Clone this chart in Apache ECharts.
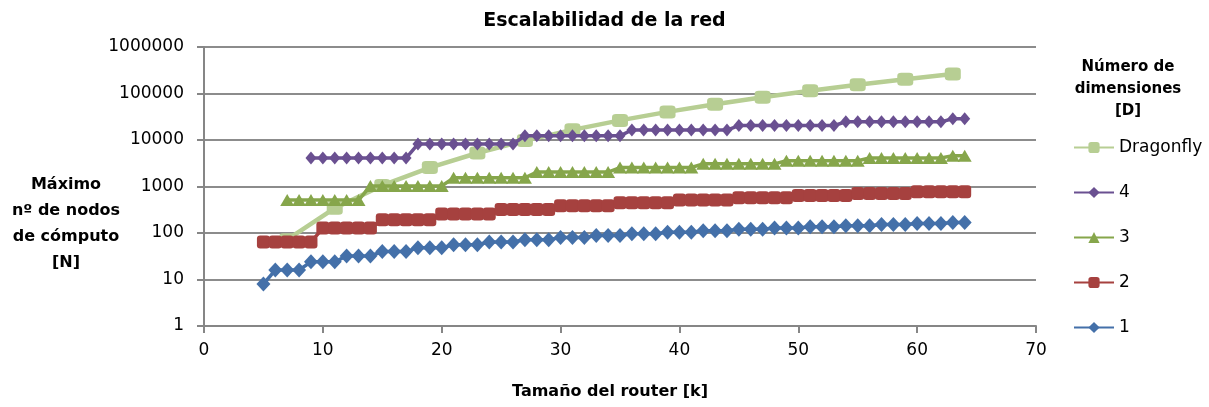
<!DOCTYPE html>
<html>
<head>
<meta charset="utf-8">
<script src="https://cdn.jsdelivr.net/npm/echarts@6/dist/echarts.min.js"></script>
<style>html,body{margin:0;padding:0;background:#fff}#c{width:1209px;height:407px}</style>
</head>
<body>
<div id="c"></div>
<script>
// Router size k for the dimension series
const kValues = [5,6,7,8,9,10,11,12,13,14,15,16,17,18,19,20,21,22,23,24,25,26,27,28,29,30,31,32,33,34,35,36,37,38,39,40,41,42,43,44,45,46,47,48,49,50,51,52,53,54,55,56,57,58,59,60,61,62,63,64];
const d1 = [8,16,16,16,24,24,24,32,32,32,40,40,40,48,48,48,56,56,56,64,64,64,72,72,72,80,80,80,88,88,88,96,96,96,104,104,104,112,112,112,120,120,120,128,128,128,136,136,136,144,144,144,152,152,152,160,160,160,168,168];
const d2 = [64,64,64,64,64,128,128,128,128,128,192,192,192,192,192,256,256,256,256,256,320,320,320,320,320,384,384,384,384,384,448,448,448,448,448,512,512,512,512,512,576,576,576,576,576,640,640,640,640,640,704,704,704,704,704,768,768,768,768,768];
const d3 = [null,null,512,512,512,512,512,512,512,1024,1024,1024,1024,1024,1024,1024,1536,1536,1536,1536,1536,1536,1536,2048,2048,2048,2048,2048,2048,2048,2560,2560,2560,2560,2560,2560,2560,3072,3072,3072,3072,3072,3072,3072,3584,3584,3584,3584,3584,3584,3584,4096,4096,4096,4096,4096,4096,4096,4608,4608];
const d4 = [null,null,null,null,4096,4096,4096,4096,4096,4096,4096,4096,4096,8192,8192,8192,8192,8192,8192,8192,8192,8192,12288,12288,12288,12288,12288,12288,12288,12288,12288,16384,16384,16384,16384,16384,16384,16384,16384,16384,20480,20480,20480,20480,20480,20480,20480,20480,20480,24576,24576,24576,24576,24576,24576,24576,24576,24576,28672,28672];
// Dragonfly
const kDragonfly = [7,11,15,19,23,27,31,35,39,43,47,51,55,59,63];
const dDragonfly = [72,342,1056,2550,5256,9702,16512,26406,40200,58806,83232,114582,154056,202950,262656];
const seriesNames = ['Dragonfly','4','3','2','1'];
const yTicks = ['1','10','100','1000','10000','100000','1000000'];

function pairs(xs, ys){ const out=[]; xs.forEach((x,i)=>{ if(ys[i]!=null) out.push([x,ys[i]]); }); return out; }

const FONT = 'DejaVu Sans';
const chart = echarts.init(document.getElementById('c'), null, {renderer:'canvas'});
const colors = ['#B7CE93','#6A5091','#86A64B','#A6413F','#4470A9'];
const symbols = ['roundRect','diamond','triangle','roundRect','diamond'];
const symSizes = [[16,13],[11,13],[14,12],[13,13],[14,15]];
const dataSets = [pairs(kDragonfly,dDragonfly), pairs(kValues,d4), pairs(kValues,d3), pairs(kValues,d2), pairs(kValues,d1)];
const lineWidths = [4.5,3.5,3.5,3.5,3.5];

chart.setOption({
  animation:false,
  backgroundColor:'#fff',
  title:{text:'Escalabilidad de la red', left:'center', top:12, padding:0,
    textStyle:{fontFamily:FONT, fontSize:19, fontWeight:'bold', color:'#000'}},
  grid:{left:204, right:173, top:47, bottom:81, containLabel:false},
  legend:{
    data:seriesNames, orient:'vertical', left:1068, top:134,
    itemWidth:40, itemHeight:14, itemGap:28,
    textStyle:{fontFamily:FONT, fontSize:17, color:'#000'}
  },
  xAxis:{type:'value', min:0, max:70, interval:10,
    axisLine:{show:true, lineStyle:{color:'#868686', width:2}},
    axisTick:{show:true, inside:false, length:7, lineStyle:{color:'#868686', width:2}},
    axisLabel:{fontFamily:FONT, fontSize:17, color:'#000', margin:16},
    splitLine:{show:false}},
  yAxis:{type:'log', logBase:10, min:1, max:1000000,
    axisLine:{show:true, lineStyle:{color:'#868686', width:2}},
    axisTick:{show:true, inside:false, length:7, lineStyle:{color:'#868686', width:2}},
    axisLabel:{fontFamily:FONT, fontSize:17, color:'#000', margin:20,
      formatter:(v)=>{ const i=Math.round(Math.log10(v)); return yTicks[i] !== undefined ? yTicks[i] : String(v); }},
    splitLine:{show:true, lineStyle:{color:'#8c8c8c', width:2}}},
  graphic:[
    {type:'text', x:66, y:172, style:{text:'Máximo\nnº de nodos\nde cómputo\n[N]', align:'center', verticalAlign:'top', lineHeight:26, font:'bold 16px "DejaVu Sans"', fill:'#000'}},
    {type:'text', x:1128, y:56, style:{text:'Número de\ndimensiones\n[D]', align:'center', verticalAlign:'top', lineHeight:22, font:'bold 15px "DejaVu Sans"', fill:'#000'}},
    {type:'text', x:610, y:392, style:{text:'Tamaño del router [k]', align:'center', verticalAlign:'middle', font:'bold 16px "DejaVu Sans"', fill:'#000'}}
  ],
  series: seriesNames.map((n,i)=>({
    name:n, type:'line', data:dataSets[i],
    symbol:symbols[i], symbolSize:symSizes[i], showSymbol:true,
    lineStyle:{color:colors[i], width:lineWidths[i]},
    itemStyle:{color:colors[i], borderWidth:0},
    emphasis:{disabled:true}, z:2+i
  }))
});
</script>
</body>
</html>
